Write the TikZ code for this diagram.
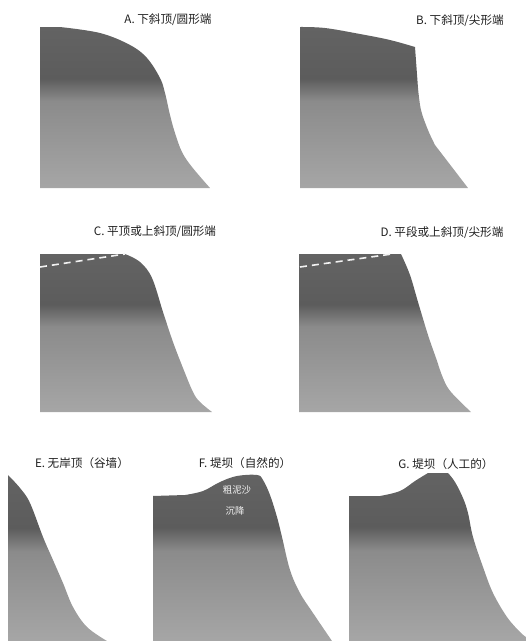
\documentclass[tikz,border=0pt]{standalone}
\usepackage{fontspec}
\setmainfont{Noto Sans CJK SC}
\usepackage{xcolor}
\usepackage{tikz}
\usetikzlibrary{positioning}

\definecolor{bankTop}{HTML}{636363}
\definecolor{bankDark}{HTML}{5C5C5C}
\definecolor{bankMid}{HTML}{8B8B8B}
\definecolor{bankLight}{HTML}{A6A6A6}
\pgfdeclareverticalshading{bankfill}{100bp}{color(0bp)=(bankLight); color(25bp)=(bankLight); color(52bp)=(bankMid); color(59bp)=(bankDark); color(75bp)=(bankTop); color(100bp)=(bankTop)}

\begin{document}
\begin{tikzpicture}[x=1pt, y=-1pt, every node/.style={align=center},
  bank/.style={shading=bankfill},
  crest/.style={draw=white!90!gray, line width=1.6pt, dash pattern=on 7pt off 5pt},
  title/.style={font=\fontsize{11.6}{13}\selectfont, text=black!88},
  note/.style={font=\fontsize{9.4}{11}\selectfont, text=white!92!gray, inner sep=1pt}]
\useasboundingbox (0,0) rectangle (526,641);

% A: sloping-down top, rounded end
\shade[bank] (40,188) -- (40,27) -- (60,27)
  -- plot[smooth, tension=0.6] coordinates {(60,27) (100,33) (130,45) (147,58) (160,78) (165,93) (170,115) (175,133) (182,152) (192,167) (210,188)} -- cycle;
\node[title] (lA) at (168,20) {A. 下斜顶/圆形端};

% B: sloping-down top, sharp end
\shade[bank] (300,188) -- (300,27)
  -- plot[smooth, tension=0.6] coordinates {(300,27) (325,28) (360,34) (390,40) (415,47)}
  -- (418,88)
  -- plot[smooth, tension=0.6] coordinates {(418,88) (421,110) (428,130) (435,145)} -- (468,188) -- cycle;
\node[title] (lB) at (460,21) {B. 下斜顶/尖形端};

% C: flat or sloping-up top, rounded end
\shade[bank] (40,412) -- (40,254) -- (125,254)
  -- plot[smooth, tension=0.6] coordinates {(125,254) (140,262) (152,278) (163,312) (173,342) (183,368) (193,392) (200,402) (212,412)} -- cycle;
\coordinate (cL) at (40,267);
\coordinate (cR) at (125,254);
\draw[crest] (cL) -- (cR);
\node[title] (lC) at (155,232) {C. 平顶或上斜顶/圆形端};

% D: flat or sloping-up top, sharp end
\shade[bank] (299,412) -- (299,254) -- (401,254)
  -- plot[smooth, tension=0.6] coordinates {(401,254) (410,275) (418,302) (428,335) (436,358) (443,378) (451,392) (471,412)} -- cycle;
\coordinate (dL) at (300,267);
\coordinate (dR) at (392,254);
\draw[crest] (dL) -- (dR);
\node[title] (lD) at (442,233) {D. 平段或上斜顶/尖形端};

% E: no bank top (valley wall)
\shade[bank] (8,641) -- (8,475)
  -- plot[smooth, tension=0.6] coordinates {(8,475) (20,488) (30,503) (43,537) (53,560) (63,583) (73,607) (87,627) (107,641)} -- cycle;
\node[title] (lE) at (82,463) {E. 无岸顶（谷墙）};

% F: natural levee
\shade[bank] (153,641) -- (153,496) -- (185,495)
  -- plot[smooth, tension=0.6] coordinates {(185,495) (203,491) (220,482) (237,476) (257,475) (263,480) (270,495) (277,517) (282,537) (290,570) (300,593) (313,613) (332,641)} -- cycle;
\node[note] (sand) at (237,490) {粗泥沙};
\node[note] (settle) at (235,511) {沉降};
\node[title] (lF) at (245,463) {F. 堤坝（自然的）};

% G: artificial levee
\shade[bank] (349,641) -- (349,496) -- (380,496)
  -- plot[smooth, tension=0.6] coordinates {(380,496) (400,491) (415,481) (428,473)} -- (448,473)
  -- plot[smooth, tension=0.6] coordinates {(448,473) (455,482) (463,498) (468,513) (473,537) (483,567) (493,593) (507,617) (520,632) (526,637)} -- (526,641) -- cycle;
\node[title] (lG) at (446,464) {G. 堤坝（人工的）};
\end{tikzpicture}
\end{document}
